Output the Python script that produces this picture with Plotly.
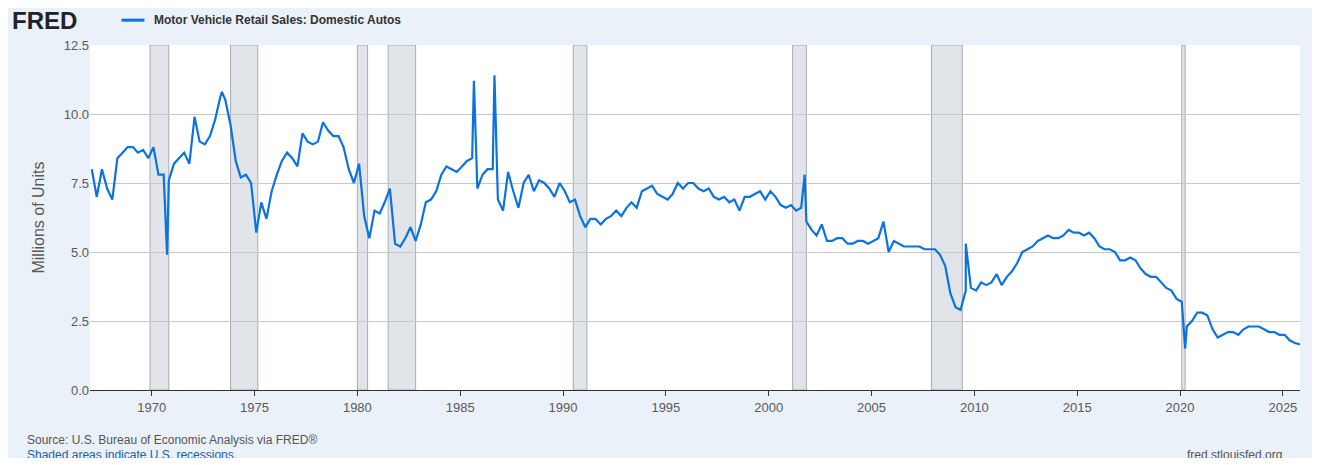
import plotly.graph_objects as go

years = list(range(1967, 2026))
quarter_months = [2, 5, 8, 11]
quarterly_values = [
    [8.0, 7.0, 8.0, 7.3], [6.9, 8.4, 8.6, 8.8], [8.8, 8.6, 8.7, 8.4], [8.8, 7.8, 7.8, 7.6],
    [8.2, 8.4, 8.6, 8.2], [9.9, 9.0, 8.9, 9.2], [9.8, 10.6, 10.5, 9.6], [8.3, 7.7, 7.8, 7.5],
    [5.7, 6.8, 6.2, 7.2], [7.8, 8.3, 8.6, 8.4], [8.1, 9.3, 9.0, 8.9], [9.0, 9.7, 9.4, 9.2],
    [9.2, 8.8, 8.0, 7.5], [8.2, 6.3, 5.5, 6.5], [6.4, 6.8, 7.3, 5.3], [5.2, 5.5, 5.9, 5.4],
    [6.0, 6.8, 6.9, 7.2], [7.8, 8.1, 8.0, 7.9], [8.1, 8.3, 8.4, 7.3], [7.8, 8.0, 8.0, 6.9],
    [6.5, 7.9, 7.2, 6.6], [7.5, 7.8, 7.2, 7.6], [7.5, 7.3, 7.0, 7.5], [7.2, 6.8, 6.9, 6.3],
    [5.9, 6.2, 6.2, 6.0], [6.2, 6.3, 6.5, 6.3], [6.6, 6.8, 6.6, 7.2], [7.3, 7.4, 7.1, 7.0],
    [6.9, 7.1, 7.5, 7.3], [7.5, 7.5, 7.3, 7.2], [7.3, 7.0, 6.9, 7.0], [6.8, 6.9, 6.5, 7.0],
    [7.0, 7.1, 7.2, 6.9], [7.2, 7.0, 6.7, 6.6], [6.7, 6.5, 6.6, 6.1], [5.8, 5.6, 6.0, 5.4],
    [5.4, 5.5, 5.5, 5.3], [5.3, 5.4, 5.4, 5.3], [5.4, 5.5, 6.1, 5.0], [5.4, 5.3, 5.2, 5.2],
    [5.2, 5.2, 5.1, 5.1], [5.1, 4.9, 4.5, 3.5], [3.0, 2.9, 3.6, 3.7], [3.6, 3.9, 3.8, 3.9],
    [4.2, 3.8, 4.1, 4.3], [4.6, 5.0, 5.1, 5.2], [5.4, 5.5, 5.6, 5.5], [5.5, 5.6, 5.8, 5.7],
    [5.7, 5.6, 5.7, 5.5], [5.2, 5.1, 5.1, 5.0], [4.7, 4.7, 4.8, 4.7], [4.4, 4.2, 4.1, 4.1],
    [3.9, 3.7, 3.6, 3.3], [3.2, 2.3, 2.5, 2.8], [2.8, 2.7, 2.2, 1.9], [2.0, 2.1, 2.1, 2.0],
    [2.2, 2.3, 2.3, 2.3], [2.2, 2.1, 2.1, 2.0], [2.0, 1.8, 1.7, 1.65],
]
spike_dates = ["1970-10-01", "1973-06-01", "1985-09-01", "1986-09-01", "2001-10-01", "2009-08-01", "2020-04-01"]
spike_values = [4.9, 10.8, 11.2, 11.4, 7.8, 5.3, 1.5]

recessions = [("1969-12-01", "1970-11-01"), ("1973-11-01", "1975-03-01"), ("1980-01-01", "1980-07-01"),
              ("1981-07-01", "1982-11-01"), ("1990-07-01", "1991-03-01"), ("2001-03-01", "2001-11-01"),
              ("2007-12-01", "2009-06-01"), ("2020-02-01", "2020-04-01")]

pts = []
for y, vals in zip(years, quarterly_values):
    for m, v in zip(quarter_months, vals):
        pts.append((f"{y}-{m:02d}-01", v))
pts += list(zip(spike_dates, spike_values))
pts.sort()
dates = [p[0] for p in pts]
vals = [p[1] for p in pts]

fig = go.Figure(go.Scatter(x=dates, y=vals, mode="lines", line=dict(color="#0a73e0", width=2.2),
                           name="Motor Vehicle Retail Sales: Domestic Autos"))
shapes = [dict(type="rect", xref="x", yref="y", x0=a, x1=b, y0=0, y1=12.5, fillcolor="#e1e5ea",
               line=dict(color="#8a8f96", width=0.7), layer="below") for a, b in recessions]
fig.update_layout(
    width=1304, height=450, paper_bgcolor="#eaf1f9", plot_bgcolor="white",
    margin=dict(l=82, r=12, t=37, b=68), showlegend=False, shapes=shapes,
    font=dict(family="Liberation Sans, Arial", color="#595959", size=13),
    xaxis=dict(range=["1967-01-01", "2025-11-01"], tickvals=[f"{y}-01-01" for y in range(1970, 2026, 5)],
               ticktext=[str(y) for y in range(1970, 2026, 5)], showgrid=False, ticks="outside",
               tickcolor="#333", ticklen=5, showline=True, linecolor="#333"),
    yaxis=dict(range=[0, 12.5], tickvals=[0, 2.5, 5, 7.5, 10, 12.5],
               ticktext=["0.0", "2.5", "5.0", "7.5", "10.0", "12.5"], gridcolor="#c8c8c8",
               title=dict(text="Millions of Units", standoff=15), zeroline=False),
    annotations=[
        dict(text="<b>FRED</b>", xref="paper", yref="paper", x=-0.066, y=1.072, xanchor="left",
             yanchor="middle", showarrow=False, font=dict(size=24, color="#222", family="Liberation Sans")),
        dict(text="<b>Motor Vehicle Retail Sales: Domestic Autos</b>", xref="paper", yref="paper",
             x=0.051, y=1.072, xanchor="left", yanchor="middle", showarrow=False,
             font=dict(size=12, color="#333")),
        dict(text="Source: U.S. Bureau of Economic Analysis via FRED®", xref="paper", yref="paper",
             x=-0.054, y=-0.145, xanchor="left", yanchor="middle", showarrow=False,
             font=dict(size=12, color="#555")),
        dict(text="Shaded areas indicate U.S. recessions.", xref="paper", yref="paper",
             x=-0.054, y=-0.188, xanchor="left", yanchor="middle", showarrow=False,
             font=dict(size=12, color="#2060a8")),
        dict(text="fred.stlouisfed.org", xref="paper", yref="paper", x=0.987, y=-0.188,
             xanchor="right", yanchor="middle", showarrow=False, font=dict(size=12, color="#555")),
    ],
)
fig.add_shape(type="line", xref="paper", yref="paper", x0=0.026, x1=0.045, y0=1.072, y1=1.072,
              line=dict(color="#0a73e0", width=3))
fig.write_html("out.html")
